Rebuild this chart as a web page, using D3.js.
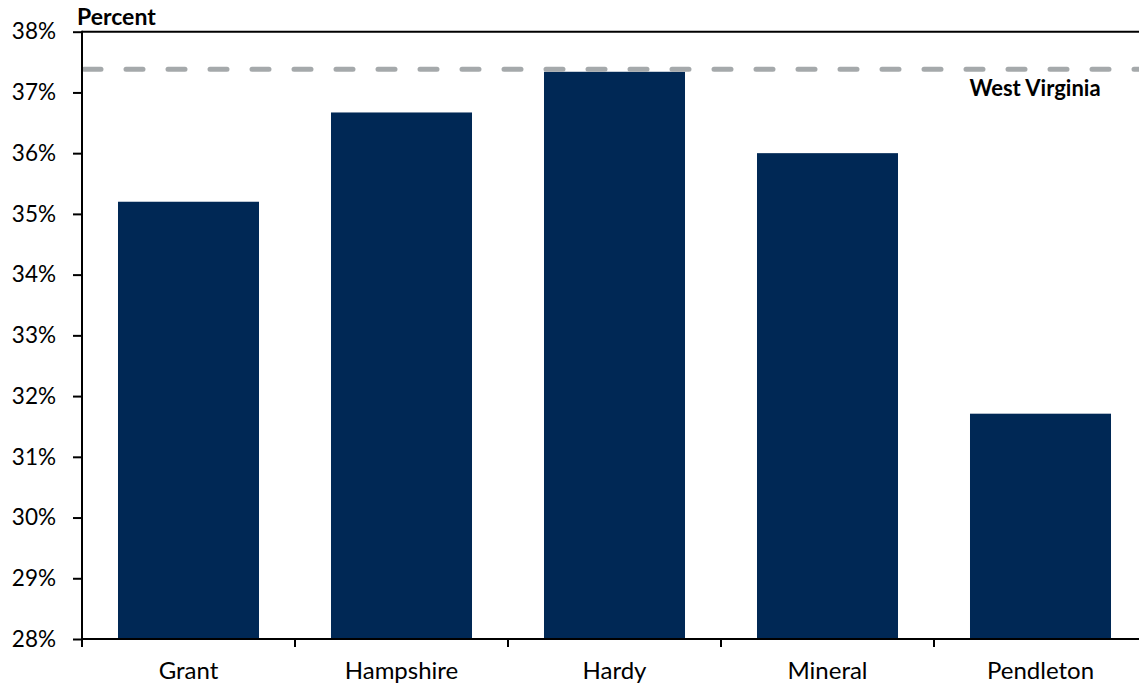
<!DOCTYPE html>
<html><head><meta charset="utf-8">
<script src="https://cdn.jsdelivr.net/npm/d3@7"></script>
<style>
html,body{margin:0;padding:0;background:#fff;overflow:hidden}
svg{display:block;font-family:Lato,"Open Sans",sans-serif}
</style></head><body>
<svg id="c" width="1139" height="690"></svg>
<script>
const categories = ["Grant","Hampshire","Hardy","Mineral","Pendleton"];
const values = [35.2, 36.67, 37.34, 36.0, 31.71];
const stateValue = 37.38;
const stateLabel = "West Virginia";
const yTicks = [28,29,30,31,32,33,34,35,36,37,38];
const yTitle = "Percent";

const svg = d3.select("#c");
const L = 82, R = 1147, T = 31.7, B = 639;
const x = d3.scaleBand().domain(categories).range([L, R]).paddingInner(0.338).paddingOuter(0.169);
const y = d3.scaleLinear().domain([28, 38]).range([B, T]);

// bars
svg.append("g").selectAll("rect").data(categories).join("rect")
  .attr("x", d => x(d)).attr("width", x.bandwidth())
  .attr("y", (d,i) => y(values[i])).attr("height", (d,i) => B - y(values[i]))
  .attr("fill", "#002855");

// state line
svg.append("line").attr("x1", L + 2).attr("x2", 1139).attr("y1", y(stateValue)).attr("y2", y(stateValue))
  .attr("stroke", "#A5A9AB").attr("stroke-width", 5).attr("stroke-linecap", "round")
  .attr("stroke-dasharray", "17,25");
svg.append("text").attr("x", 1035).attr("y", 96).attr("text-anchor", "middle")
  .attr("font-weight", "bold").attr("font-size", 22).attr("fill", "#000").text(stateLabel);

// top border
svg.append("line").attr("x1", L).attr("x2", 1139).attr("y1", T).attr("y2", T)
  .attr("stroke", "#000").attr("stroke-width", 2);

// y axis
const ya = svg.append("g").attr("transform", `translate(${L},0)`)
  .call(d3.axisLeft(y).tickValues(yTicks).tickFormat(d => d + "%").tickSize(9).tickPadding(17));
ya.select(".domain").remove();
ya.selectAll(".tick line").attr("stroke", "#000").attr("stroke-width", 2);
ya.selectAll(".tick text").attr("font-size", 22.5).attr("fill", "#000").attr("font-family", "Lato,'Open Sans',sans-serif");
svg.append("line").attr("x1", L).attr("x2", L).attr("y1", T - 1).attr("y2", B + 8)
  .attr("stroke", "#000").attr("stroke-width", 2);

// x axis
svg.append("line").attr("x1", L).attr("x2", 1139).attr("y1", B).attr("y2", B)
  .attr("stroke", "#000").attr("stroke-width", 2);
const xa = svg.append("g").attr("transform", `translate(0,${B})`)
  .call(d3.axisBottom(x).tickSize(0).tickPadding(23));
xa.select(".domain").remove();
xa.selectAll(".tick text").attr("font-size", 24).attr("fill", "#000").attr("font-family", "Lato,'Open Sans',sans-serif");
svg.append("g").selectAll("line").data(categories.slice(1)).join("line")
  .attr("x1", d => x(d) - x.step() * x.paddingInner() / 2).attr("x2", d => x(d) - x.step() * x.paddingInner() / 2)
  .attr("y1", B).attr("y2", B + 8).attr("stroke", "#000").attr("stroke-width", 2);

// title
svg.append("text").attr("x", 77).attr("y", 25).attr("font-weight", "bold").attr("font-size", 23)
  .attr("fill", "#000").text(yTitle);
</script></body></html>
